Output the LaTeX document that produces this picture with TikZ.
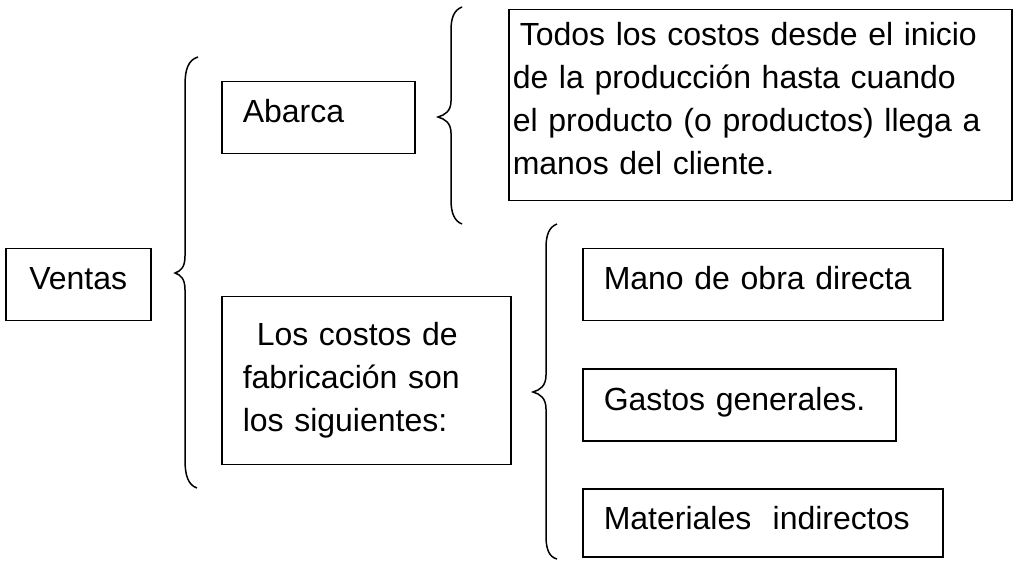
\documentclass[tikz,border=0pt]{standalone}
\usepackage{fontspec}
\setmainfont{Liberation Sans}
\usetikzlibrary{positioning}
\tikzset{caja/.style = {draw, line width = 1.5pt, anchor = north west, inner xsep = 21pt, inner ysep = 0pt,
    align = left, text height = 41pt, text depth = 31pt, font = \fontsize{32}{43}\selectfont},
  llave/.style = {line width = 1.5pt}}

\begin{document}
\begin{tikzpicture}[x=1pt, y=-1pt]
          \useasboundingbox (0, 0) rectangle (1013, 561);
          \node [caja, text width = 103pt, align = center] (ventas) at (5, 248) {Ventas};
          \node [caja, text width = 151pt] (abarca) at (221, 81) {Abarca};
          \node [caja, inner xsep = 4pt, text width = 495pt, text height = 36pt, text depth = 155pt] (todos) at (508, 9)
            {\hspace{7pt}Todos los costos desde el inicio\\de la producción hasta cuando\\el producto (o productos) llega a\\manos del cliente.};
          \node [caja, text width = 247pt, text height = 49pt, text depth = 119pt] (fabrica) at (221, 296)
            {\hspace{14pt}Los costos de\\fabricación son\\los siguientes:};
          \node [caja, text width = 318pt] (mano) at (582, 248) {Mano de obra directa};
          \node [caja, text width = 271pt, below = 47pt of mano.south west, anchor = north west] (gastos) {Gastos generales.};
          \node [caja, text width = 318pt, text depth = 27pt, below = 46pt of gastos.south west, anchor = north west] (materiales)
            {Materiales\ \ indirectos};

          % llaves
          \draw [llave] (198, 57) .. controls (188, 60) and (185, 70) .. (185, 85) -- (185, 256)
            .. controls (185, 267) and (181, 271) .. (175, 273) .. controls (181, 275) and (185, 279) .. (185, 290)
            -- (185, 460) .. controls (185, 475) and (188, 485) .. (197, 488);
          \draw [llave] (462, 7) .. controls (454, 10) and (451, 18) .. (451, 30) -- (451, 101)
            .. controls (451, 111) and (445, 115) .. (438, 117) .. controls (445, 119) and (451, 123) .. (451, 133)
            -- (451, 200) .. controls (451, 212) and (454, 221) .. (462, 224);
          \draw [llave] (557, 224) .. controls (549, 227) and (546, 235) .. (546, 248) -- (546, 375)
            .. controls (546, 386) and (540, 390) .. (533, 392) .. controls (540, 394) and (546, 398) .. (546, 409)
            -- (546, 536) .. controls (546, 549) and (549, 557) .. (557, 559);
        \end{tikzpicture}
\end{document}
